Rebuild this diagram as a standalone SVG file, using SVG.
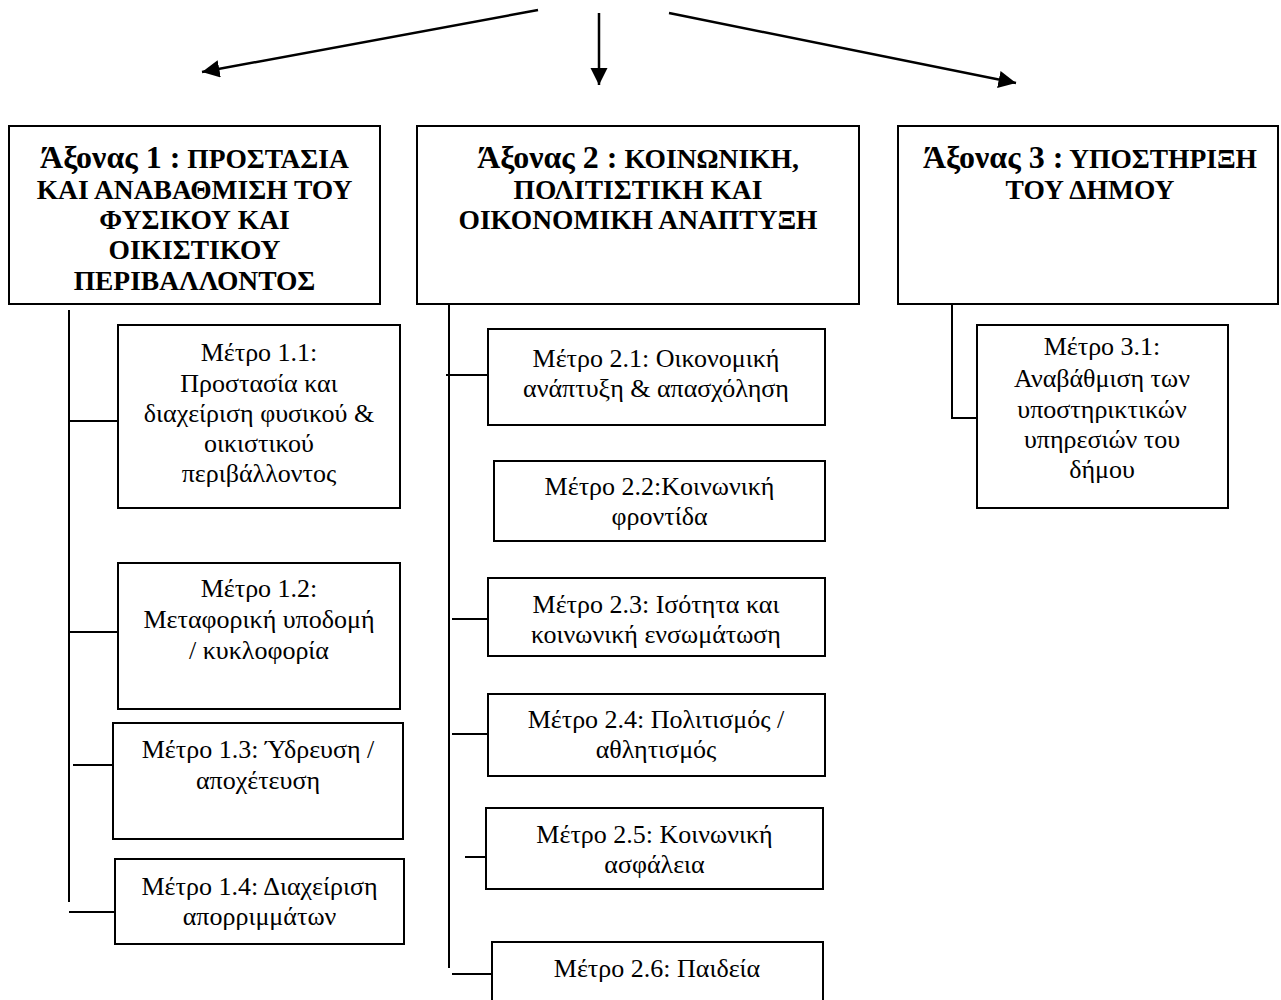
<svg xmlns="http://www.w3.org/2000/svg" width="1281" height="1000" viewBox="0 0 1281 1000">
<style>
  .box { fill: #fff; stroke: #000; stroke-width: 2; }
  .ln { stroke: #000; stroke-width: 2; fill: none; }
  .arr { stroke: #000; stroke-width: 2.5; fill: none; }
  .hd { font-family: "Liberation Serif", "Times New Roman", serif; font-weight: bold; font-size: 27.5px; fill: #000; text-anchor: middle; }
  .hd .big { font-size: 32px; }
  .tx { font-family: "Liberation Serif", "Times New Roman", serif; font-size: 26px; fill: #000; text-anchor: middle; }
</style>
<defs>
  <marker id="ah" markerWidth="8" markerHeight="8" refX="7" refY="3.5" orient="auto" markerUnits="strokeWidth">
    <path d="M0,0 L7,3.5 L0,7 Z" fill="#000"/>
  </marker>
</defs>
<rect width="1281" height="1000" fill="#fff"/>

<g id="connectors">
  <line class="arr" x1="538" y1="10" x2="202" y2="72" marker-end="url(#ah)"/>
  <line class="arr" x1="599" y1="13" x2="599" y2="85" marker-end="url(#ah)"/>
  <line class="arr" x1="669" y1="13" x2="1016" y2="83" marker-end="url(#ah)"/>

  <line class="ln" x1="69" y1="310" x2="69" y2="902"/>
  <line class="ln" x1="69" y1="421" x2="118" y2="421"/>
  <line class="ln" x1="69" y1="632" x2="118" y2="632"/>
  <line class="ln" x1="73" y1="765" x2="122" y2="765"/>
  <line class="ln" x1="69" y1="912" x2="118" y2="912"/>

  <line class="ln" x1="449" y1="304" x2="449" y2="968"/>
  <line class="ln" x1="446" y1="375" x2="495" y2="375"/>
  <line class="ln" x1="452" y1="619" x2="495" y2="619"/>
  <line class="ln" x1="452" y1="734" x2="501" y2="734"/>
  <line class="ln" x1="465" y1="857" x2="487" y2="857"/>
  <line class="ln" x1="452" y1="974" x2="492" y2="974"/>

  <polyline class="ln" points="952,304 952,418 978,418"/>
</g>

<g id="axis1">
  <rect class="box" x="9" y="126" width="371" height="178"/>
  <text class="hd" x="194.5" y="168"><tspan class="big">Άξονας 1 :</tspan> ΠΡΟΣΤΑΣΙΑ</text>
  <text class="hd" x="194.5" y="199">ΚΑΙ ΑΝΑΒΑΘΜΙΣΗ ΤΟΥ</text>
  <text class="hd" x="194.5" y="229">ΦΥΣΙΚΟΥ ΚΑΙ</text>
  <text class="hd" x="194.5" y="259">ΟΙΚΙΣΤΙΚΟΥ</text>
  <text class="hd" x="194.5" y="290">ΠΕΡΙΒΑΛΛΟΝΤΟΣ</text>
</g>

<g id="axis2">
  <rect class="box" x="417" y="126" width="442" height="178"/>
  <text class="hd" x="638" y="168"><tspan class="big">Άξονας 2 :</tspan> ΚΟΙΝΩΝΙΚΗ,</text>
  <text class="hd" x="638" y="199">ΠΟΛΙΤΙΣΤΙΚΗ ΚΑΙ</text>
  <text class="hd" x="638" y="229">ΟΙΚΟΝΟΜΙΚΗ ΑΝΑΠΤΥΞΗ</text>
</g>

<g id="axis3">
  <rect class="box" x="898" y="126" width="380" height="178"/>
  <text class="hd" x="1090" y="168"><tspan class="big">Άξονας 3 :</tspan> ΥΠΟΣΤΗΡΙΞΗ</text>
  <text class="hd" x="1090" y="199">ΤΟΥ ΔΗΜΟΥ</text>
</g>

<g id="m11">
  <rect class="box" x="118" y="325" width="282" height="183"/>
  <text class="tx" x="259" y="361">Μέτρο 1.1:</text>
  <text class="tx" x="259" y="392">Προστασία και</text>
  <text class="tx" x="259" y="422">διαχείριση φυσικού &amp;</text>
  <text class="tx" x="259" y="452">οικιστικού</text>
  <text class="tx" x="259" y="482">περιβάλλοντος</text>
</g>

<g id="m12">
  <rect class="box" x="118" y="563" width="282" height="146"/>
  <text class="tx" x="259" y="597">Μέτρο 1.2:</text>
  <text class="tx" x="259" y="628">Μεταφορική υποδομή</text>
  <text class="tx" x="259" y="659">/ κυκλοφορία</text>
</g>

<g id="m13">
  <rect class="box" x="113" y="723" width="290" height="116"/>
  <text class="tx" x="258" y="758">Μέτρο 1.3: Ύδρευση /</text>
  <text class="tx" x="258" y="789">αποχέτευση</text>
</g>

<g id="m14">
  <rect class="box" x="115" y="859" width="289" height="85"/>
  <text class="tx" x="259.5" y="895">Μέτρο 1.4: Διαχείριση</text>
  <text class="tx" x="259.5" y="925">απορριμμάτων</text>
</g>

<g id="m21">
  <rect class="box" x="488" y="329" width="337" height="96"/>
  <text class="tx" x="656" y="367">Μέτρο 2.1: Οικονομική</text>
  <text class="tx" x="656" y="397">ανάπτυξη &amp; απασχόληση</text>
</g>

<g id="m22">
  <rect class="box" x="494" y="461" width="331" height="80"/>
  <text class="tx" x="659.5" y="495">Μέτρο 2.2:Κοινωνική</text>
  <text class="tx" x="659.5" y="525">φροντίδα</text>
</g>

<g id="m23">
  <rect class="box" x="488" y="578" width="337" height="78"/>
  <text class="tx" x="656" y="613">Μέτρο 2.3: Ισότητα και</text>
  <text class="tx" x="656" y="643">κοινωνική ενσωμάτωση</text>
</g>

<g id="m24">
  <rect class="box" x="488" y="694" width="337" height="82"/>
  <text class="tx" x="656" y="728">Μέτρο 2.4: Πολιτισμός /</text>
  <text class="tx" x="656" y="758">αθλητισμός</text>
</g>

<g id="m25">
  <rect class="box" x="486" y="808" width="337" height="81"/>
  <text class="tx" x="654.5" y="843">Μέτρο 2.5: Κοινωνική</text>
  <text class="tx" x="654.5" y="873">ασφάλεια</text>
</g>

<g id="m26">
  <rect class="box" x="492" y="942" width="331" height="70"/>
  <text class="tx" x="657" y="977">Μέτρο 2.6: Παιδεία</text>
</g>

<g id="m31">
  <rect class="box" x="977" y="325" width="251" height="183"/>
  <text class="tx" x="1102" y="355">Μέτρο 3.1:</text>
  <text class="tx" x="1102" y="387">Αναβάθμιση των</text>
  <text class="tx" x="1102" y="418">υποστηρικτικών</text>
  <text class="tx" x="1102" y="448">υπηρεσιών του</text>
  <text class="tx" x="1102" y="478">δήμου</text>
</g>
</svg>
